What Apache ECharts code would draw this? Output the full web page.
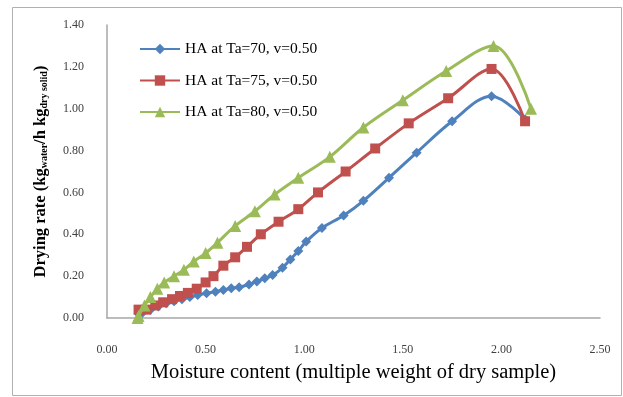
<!DOCTYPE html>
<html><head><meta charset="utf-8">
<script src="https://cdn.jsdelivr.net/npm/echarts@6/dist/echarts.min.js"></script>
<style>html,body{margin:0;padding:0;background:#fff}#c{width:623px;height:397px}</style>
</head><body><div id="c"></div>
<script>
const seriesNames = ['HA at Ta=70, v=0.50', 'HA at Ta=75, v=0.50', 'HA at Ta=80, v=0.50'];
const xTicks = [0, 0.5, 1.0, 1.5, 2.0, 2.5];
const yTicks = [0, 0.2, 0.4, 0.6, 0.8, 1.0, 1.2, 1.4];

const ta70X = [0.16,0.18,0.22,0.26,0.30,0.34,0.38,0.42,0.46,0.505,0.55,0.59,0.63,0.67,0.72,0.76,0.80,0.84,0.89,0.93,0.97,1.01,1.09,1.20,1.30,1.43,1.57,1.75,1.95,2.12];
const ta70Y = [0.02,0.025,0.04,0.055,0.07,0.08,0.09,0.10,0.11,0.118,0.126,0.134,0.142,0.147,0.16,0.175,0.19,0.205,0.24,0.28,0.32,0.365,0.43,0.49,0.56,0.67,0.79,0.94,1.06,0.95];

const ta75X = [0.16,0.20,0.245,0.285,0.33,0.37,0.41,0.455,0.50,0.54,0.59,0.65,0.71,0.78,0.87,0.97,1.07,1.21,1.36,1.53,1.73,1.95,2.12];
const ta75Y = [0.04,0.04,0.06,0.075,0.09,0.105,0.12,0.14,0.17,0.20,0.25,0.29,0.34,0.40,0.46,0.52,0.60,0.70,0.81,0.93,1.05,1.19,0.94];

const ta80X = [0.155,0.16,0.19,0.22,0.255,0.29,0.34,0.39,0.44,0.50,0.56,0.65,0.75,0.85,0.97,1.13,1.30,1.50,1.72,1.96,2.15];
const ta80Y = [0.00,0.01,0.06,0.10,0.14,0.17,0.20,0.23,0.27,0.31,0.36,0.44,0.51,0.59,0.67,0.77,0.91,1.04,1.18,1.30,1.00];

const colors = ['#4F81BD', '#C0504D', '#9BBB59'];
const symbols = ['diamond', 'rect', 'triangle'];
const symbolSizes = [10, 10, 12];
const xs = [ta70X, ta75X, ta80X];
const ys = [ta70Y, ta75Y, ta80Y];

const serif = '"Liberation Serif", "DejaVu Serif", serif';

const chart = echarts.init(document.getElementById('c'));
chart.setOption({
  animation: false,
  backgroundColor: '#fff',
  grid: { left: 107, top: 25, right: 23, bottom: 79 },
  legend: {
    orient: 'vertical', left: 134, top: 36, itemGap: 15.5,
    itemWidth: 40, itemHeight: 13,
    textStyle: { fontFamily: serif, fontSize: 15.5, color: '#000' },
    data: seriesNames
  },
  xAxis: {
    type: 'value', min: 0, max: 2.5, interval: 0.5,
    axisLine: { show: true, lineStyle: { color: '#a6a6a6', width: 1.5 } },
    axisTick: { show: false },
    splitLine: { show: false },
    axisLabel: { margin: 26, fontFamily: serif, fontSize: 12, color: '#404040',
      formatter: v => v.toFixed(2) },
    name: 'Moisture content (multiple weight of dry sample)',
    nameLocation: 'middle', nameGap: 44,
    nameTextStyle: { fontFamily: serif, fontSize: 20.5, color: '#000' }
  },
  yAxis: {
    type: 'value', min: 0, max: 1.4, interval: 0.2,
    axisLine: { show: true, lineStyle: { color: '#a6a6a6', width: 1.5 } },
    axisTick: { show: false },
    splitLine: { show: false },
    axisLabel: { margin: 23, fontFamily: serif, fontSize: 12, color: '#404040',
      formatter: v => v.toFixed(2) },
    name: '{t|Drying rate (kg}{s|water}{t|/h kg}{s|dry solid}{t|)}',
    nameLocation: 'middle', nameGap: 58, nameRotate: 90,
    nameTextStyle: {
      rich: {
        t: { fontFamily: serif, fontSize: 16.5, fontWeight: 'bold', color: '#000', lineHeight: 22, verticalAlign: 'bottom' },
        s: { fontFamily: serif, fontSize: 10, fontWeight: 'bold', color: '#000', lineHeight: 13, verticalAlign: 'bottom' }
      }
    }
  },
  graphic: [
    { type: 'rect', shape: { x: 12.5, y: 7.5, width: 609, height: 388 },
      style: { fill: 'none', stroke: '#b0b0b0', lineWidth: 1 }, silent: true }
  ],
  series: seriesNames.map((n, i) => ({
    name: n, type: 'line', smooth: 0.35,
    data: xs[i].map((x, j) => [x, ys[i][j]]),
    symbol: symbols[i], symbolSize: symbolSizes[i],
    itemStyle: { color: colors[i] },
    lineStyle: { color: colors[i], width: 3 },
    z: 2 + i
  }))
});
</script></body></html>
